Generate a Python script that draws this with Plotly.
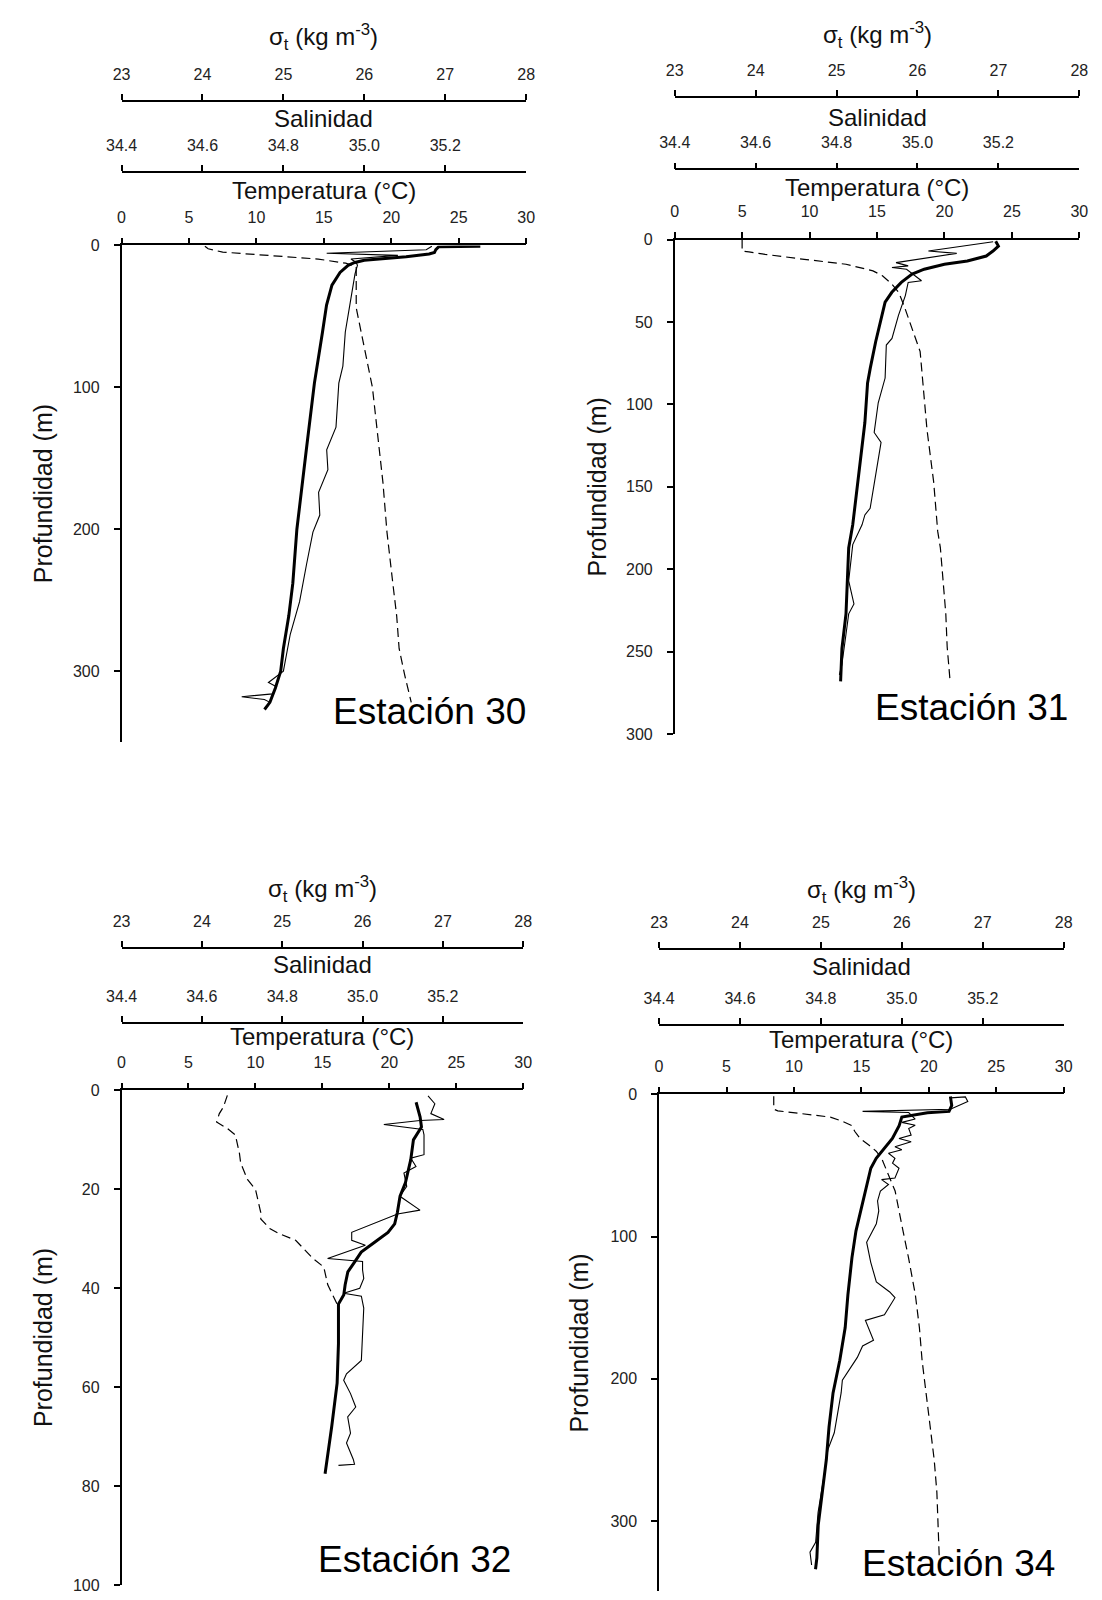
import plotly.graph_objects as go

# ---------------- DATA ----------------
stations = ["Estación 30", "Estación 31", "Estación 32", "Estación 34"]

# Estación 30
e30_temp_depth = [0.5, 1, 3, 5, 6, 8, 10.5, 12, 14, 19, 28, 42, 61, 80, 97, 144, 200, 238, 261, 284, 300, 312, 322, 327]
e30_temp = [26.6, 23.5, 23.3, 23.2, 22.8, 21.1, 18.0, 17.3, 16.8, 16.2, 15.6, 15.2, 14.9, 14.6, 14.3, 13.7, 13.0, 12.7, 12.4, 12.0, 11.8, 11.4, 11.0, 10.6]
e30_sal_depth = [0.5, 3, 5.5, 7, 9.5, 12, 14, 20, 44, 61, 85, 97, 128, 144, 158, 174, 190, 202, 225, 251, 274, 300, 308, 311, 316, 318, 320, 322]
e30_sal = [35.167, 35.153, 34.907, 35.083, 34.967, 34.980, 34.983, 34.977, 34.963, 34.953, 34.947, 34.937, 34.930, 34.907, 34.910, 34.887, 34.890, 34.873, 34.857, 34.840, 34.817, 34.800, 34.763, 34.783, 34.773, 34.697, 34.753, 34.767]
e30_sig_depth = [0.5, 2.3, 4.7, 9.6, 12.5, 15, 44, 58, 94, 100, 167, 202, 237, 261, 284, 303, 322]
e30_sig = [24.03, 24.07, 24.25, 25.43, 25.77, 25.90, 25.90, 25.95, 26.08, 26.10, 26.23, 26.28, 26.35, 26.40, 26.43, 26.50, 26.58]

# Estación 31
e31_temp_depth = [1, 4, 7, 10, 13, 15, 18, 21, 26, 32, 38, 48, 62, 78, 87, 111, 147, 173, 187, 207, 227, 248, 262, 268]
e31_temp = [23.8, 24.0, 23.6, 23.1, 21.7, 20.0, 18.5, 17.6, 16.8, 16.1, 15.6, 15.3, 14.9, 14.5, 14.3, 14.1, 13.6, 13.2, 12.9, 12.8, 12.7, 12.4, 12.3, 12.3]
e31_sal_depth = [1.4, 7, 8.4, 14, 16, 17, 18, 25, 26, 34, 46, 60, 64, 84, 99, 117, 123, 133, 147, 163, 167, 173, 185, 207, 221, 227, 240, 258, 264]
e31_sal = [35.187, 35.027, 35.097, 34.947, 34.977, 34.937, 34.973, 35.010, 34.977, 34.970, 34.953, 34.937, 34.923, 34.920, 34.903, 34.893, 34.910, 34.903, 34.893, 34.883, 34.870, 34.863, 34.840, 34.830, 34.843, 34.830, 34.823, 34.813, 34.807]
e31_sig_depth = [0, 7, 7.5, 9, 12, 15, 19, 22, 27, 32, 40, 54, 68, 87, 115, 147, 177, 187, 227, 247, 259, 266]
e31_sig = [23.833, 23.833, 23.917, 24.117, 24.600, 25.117, 25.450, 25.567, 25.683, 25.767, 25.833, 25.933, 26.033, 26.067, 26.117, 26.200, 26.250, 26.283, 26.350, 26.367, 26.383, 26.400]

# Estación 32
e32_temp_depth = [2.4, 5.4, 7.4, 9, 10, 14, 18.7, 21.4, 24.7, 27, 28.7, 30.7, 32.7, 34.7, 36.7, 39.3, 41.3, 43.2, 51.2, 59.2, 67.9, 77.5]
e32_temp = [22.0, 22.3, 22.4, 22.0, 21.8, 21.6, 21.2, 20.8, 20.6, 20.4, 19.9, 18.9, 17.9, 17.4, 16.9, 16.7, 16.6, 16.2, 16.2, 16.1, 15.7, 15.2]
e32_sal_depth = [1.1, 2.7, 4.7, 5.9, 6.1, 6.9, 7.9, 9.0, 13.0, 13.7, 15.4, 16.7, 19.4, 21.4, 24.2, 25.0, 28.7, 30.3, 31.3, 34.0, 34.6, 36.3, 38.0, 40.0, 41.0, 41.6, 44, 54.6, 57.3, 58.6, 61.3, 64, 66, 69.3, 71.3, 74.6, 75.6, 75.8]
e32_sal = [35.163, 35.180, 35.170, 35.203, 35.143, 35.053, 35.150, 35.153, 35.153, 35.120, 35.133, 35.103, 35.110, 35.093, 35.143, 35.087, 34.973, 34.973, 35.007, 34.913, 35.000, 35.000, 35.003, 34.993, 34.953, 34.997, 35.003, 34.997, 34.960, 34.953, 34.970, 34.983, 34.963, 34.970, 34.960, 34.977, 34.980, 34.940]
e32_sig_depth = [1.0, 3.4, 4.7, 6.4, 7.7, 9, 12.7, 14.7, 18, 20, 24.7, 26, 28, 29, 30.3, 32, 34, 35.7, 39.3, 43.2]
e32_sig = [24.317, 24.267, 24.217, 24.183, 24.317, 24.417, 24.467, 24.483, 24.567, 24.667, 24.733, 24.733, 24.850, 24.967, 25.167, 25.267, 25.383, 25.517, 25.567, 25.683]

# Estación 34
e34_temp_depth = [1.5, 7.8, 12, 13, 16, 22, 31, 40, 45, 52, 68, 82, 96, 115, 141, 164, 187, 210, 234, 257, 280, 303, 326, 334]
e34_temp = [21.6, 21.7, 21.5, 19.9, 18.0, 17.8, 17.3, 16.5, 16.1, 15.7, 15.3, 14.9, 14.6, 14.3, 14.0, 13.8, 13.4, 12.9, 12.6, 12.4, 12.1, 11.8, 11.7, 11.6]
e34_sal_depth = [2.5, 1.8, 5, 8.5, 10.5, 12, 12.8, 17.4, 19.7, 21.8, 24, 28.7, 31, 33.3, 36.8, 39, 41.4, 45, 48.4, 52, 58.8, 60, 63.4, 68, 75, 82, 91, 104, 118, 132, 139, 143, 155, 159, 173, 177, 185, 201, 210, 238, 250, 259, 294, 315, 322, 331]
e34_sal = [35.120, 35.157, 35.163, 35.137, 35.120, 34.903, 35.017, 35.033, 35.000, 35.033, 35.017, 35.023, 34.993, 35.023, 34.983, 35.000, 34.967, 34.983, 34.977, 34.993, 34.983, 34.950, 34.967, 34.947, 34.940, 34.943, 34.937, 34.913, 34.923, 34.937, 34.970, 34.983, 34.957, 34.910, 34.930, 34.903, 34.890, 34.853, 34.850, 34.833, 34.817, 34.813, 34.793, 34.787, 34.773, 34.777]
e34_sig_depth = [1.4, 10.4, 11.6, 13, 14, 15, 16, 19, 22, 26, 31, 36, 40, 45, 57, 68, 92, 115, 141, 164, 187, 210, 234, 257, 280, 303, 326, 333]
e34_sig = [24.417, 24.417, 24.467, 24.667, 24.833, 24.950, 25.117, 25.267, 25.383, 25.417, 25.483, 25.600, 25.683, 25.750, 25.833, 25.917, 26.000, 26.083, 26.167, 26.217, 26.250, 26.300, 26.350, 26.400, 26.433, 26.450, 26.467, 26.467]

temp_ticks = [0, 5, 10, 15, 20, 25, 30]
sal_ticks = [34.4, 34.6, 34.8, 35.0, 35.2]
sig_ticks = [23, 24, 25, 26, 27, 28]
depth_ticks = [[0, 100, 200, 300], [0, 50, 100, 150, 200, 250, 300], [0, 20, 40, 60, 80, 100], [0, 100, 200, 300]]
depth_max = [350, 300, 100, 349.3]

profiles = [
    (e30_temp_depth, e30_temp, e30_sal_depth, e30_sal, e30_sig_depth, e30_sig),
    (e31_temp_depth, e31_temp, e31_sal_depth, e31_sal, e31_sig_depth, e31_sig),
    (e32_temp_depth, e32_temp, e32_sal_depth, e32_sal, e32_sig_depth, e32_sig),
    (e34_temp_depth, e34_temp, e34_sal_depth, e34_sal, e34_sig_depth, e34_sig),
]

# ---------------- LAYOUT GEOMETRY (pixels) ----------------
W, H = 1102, 1600
geom = [
    dict(x0=108, x1=522, ytop=240, ybot=742, sig=94, sal=166, t_sig=29, t_sal=112, t_tmp=184, lab=(423, 711), yt=27),
    dict(x0=674, x1=1088, ytop=234, ybot=734, sig=90, sal=163, t_sig=27, t_sal=111, t_tmp=181, lab=(978, 707), yt=594),
    dict(x0=108, x1=519, ytop=1094, ybot=1594, sig=950, sal=1026, t_sig=890, t_sal=967, t_tmp=1040, lab=(408, 1568), yt=27),
    dict(x0=658, x1=1072, ytop=1098, ybot=1600, sig=951, sal=1028, t_sig=891, t_sal=969, t_tmp=1043, lab=(964, 1572), yt=576),
]

def fx(px):
    return px / W

def fy(py):
    return 1 - py / H

FONT = "Liberation Sans, Arial, sans-serif"
tickfont = dict(family=FONT, size=16, color="#222")

fig = go.Figure()
layout = dict(
    width=W, height=H, margin=dict(l=0, r=0, t=0, b=0),
    paper_bgcolor="white", plot_bgcolor="white", showlegend=False,
    font=dict(family=FONT, color="#111"),
)
annotations = []

common_axis = dict(showgrid=False, zeroline=False, showline=True, linecolor="black",
                   linewidth=1.5, ticks="outside", ticklen=6, tickwidth=1.5,
                   tickcolor="black", tickfont=tickfont)

for i, g in enumerate(geom):
    nt, ns, ng = 3 * i + 1, 3 * i + 2, 3 * i + 3
    ny = i + 1
    xt = "x" if nt == 1 else f"x{nt}"
    xs, xg = f"x{ns}", f"x{ng}"
    yy = "y" if ny == 1 else f"y{ny}"
    dom = [fx(g["x0"]), fx(g["x1"])]

    layout["xaxis" if nt == 1 else f"xaxis{nt}"] = dict(
        common_axis, domain=dom, anchor=yy, side="top", range=[0, 30],
        tickvals=temp_ticks, ticklabelstandoff=8)
    layout[f"xaxis{ns}"] = dict(
        common_axis, overlaying=xt, anchor="free", position=fy(g["sal"]),
        side="top", range=[34.4, 35.4], tickvals=sal_ticks, tickformat=".1f",
        ticklabelstandoff=8)
    layout[f"xaxis{ng}"] = dict(
        common_axis, overlaying=xt, anchor="free", position=fy(g["sig"]),
        side="top", range=[23, 28], tickvals=sig_ticks, ticklabelstandoff=8)
    layout["yaxis" if ny == 1 else f"yaxis{ny}"] = dict(
        common_axis, domain=[fy(g["ybot"]), fy(g["ytop"])], anchor=xt,
        range=[depth_max[i], 0], tickvals=depth_ticks[i], ticklabelstandoff=11)

    td, tv, sd, sv, gd, gv = profiles[i]
    fig.add_trace(go.Scatter(x=gv, y=gd, xaxis=xg, yaxis=yy, mode="lines",
                             line=dict(color="black", width=1.2, dash="9px,5px")))
    fig.add_trace(go.Scatter(x=sv, y=sd, xaxis=xs, yaxis=yy, mode="lines",
                             line=dict(color="black", width=1.1)))
    fig.add_trace(go.Scatter(x=tv, y=td, xaxis=xt, yaxis=yy, mode="lines",
                             line=dict(color="black", width=3)))

    cx = fx((g["x0"] + g["x1"]) / 2)
    for txt, yy_px in [("σ<sub>t</sub> (kg m<sup>-3</sup>)", g["t_sig"]),
                       ("Salinidad", g["t_sal"]),
                       ("Temperatura (°C)", g["t_tmp"])]:
        annotations.append(dict(text=txt, x=cx, y=fy(yy_px), xref="paper", yref="paper",
                                xanchor="center", yanchor="middle", showarrow=False,
                                font=dict(family=FONT, size=24, color="#111")))
    annotations.append(dict(text="Profundidad (m)", x=fx(g["yt"]),
                            y=fy((g["ytop"] + g["ybot"]) / 2), xref="paper", yref="paper",
                            xanchor="center", yanchor="middle", textangle=-90, showarrow=False,
                            font=dict(family=FONT, size=25, color="#111")))
    annotations.append(dict(text=stations[i], x=fx(g["lab"][0]), y=fy(g["lab"][1]),
                            xref="paper", yref="paper", xanchor="center", yanchor="middle",
                            showarrow=False, font=dict(family=FONT, size=37, color="#000")))

layout["annotations"] = annotations
fig.update_layout(**layout)
fig.write_html("out.html")
